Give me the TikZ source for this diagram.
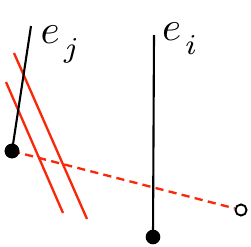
\documentclass[tikz,border=0pt]{standalone}
\definecolor{myred}{RGB}{250,40,10}
\newcommand{\lowsub}[1]{_{\mkern2mu\raisebox{-2pt}{$\scriptstyle #1$}}}
\begin{document}
\begin{tikzpicture}[x=0.03cm,y=-0.03cm,
  blackseg/.style={line width=1.8pt,black},
  redseg/.style={line width=2pt,myred},
  reddash/.style={line width=2pt,myred,dash pattern=on 7pt off 4.5pt},
  fulldot/.style={circle,fill=black,inner sep=0pt,minimum size=12.5pt},
  opendot/.style={circle,draw=black,fill=white,line width=1.6pt,inner sep=0pt,minimum size=9.5pt},
  lab/.style={inner sep=0pt,anchor=base west}]
\useasboundingbox (0,0) rectangle (251,246);
% red parallel lines
\coordinate (r1a) at (6,82);
\coordinate (r1b) at (63,213);
\coordinate (r2a) at (14,53);
\coordinate (r2b) at (87,219);
\draw[redseg] (r1a) -- (r1b);
\draw[redseg] (r2a) -- (r2b);
% e_j segment
\coordinate (ejtop) at (31,26);
\node[fulldot] (dj) at (12,151) {};
\draw[blackseg] (ejtop) -- (dj.center);
% e_i segment
\coordinate (eitop) at (154,35);
\node[fulldot] (di) at (153,237) {};
\draw[blackseg] (eitop) -- (di.center);
% dashed red
\node[opendot] (oc) at (241,210) {};
\draw[reddash] (dj.center) -- (oc);
\node[fulldot] at (dj) {};
% labels
\node[lab] (lj) at (40.5,43) {\scalebox{3.5}{$e\lowsub{j}$}};
\node[lab] (li) at (162,40) {\scalebox{3.5}{$e\lowsub{i}$}};
\end{tikzpicture}
\end{document}
